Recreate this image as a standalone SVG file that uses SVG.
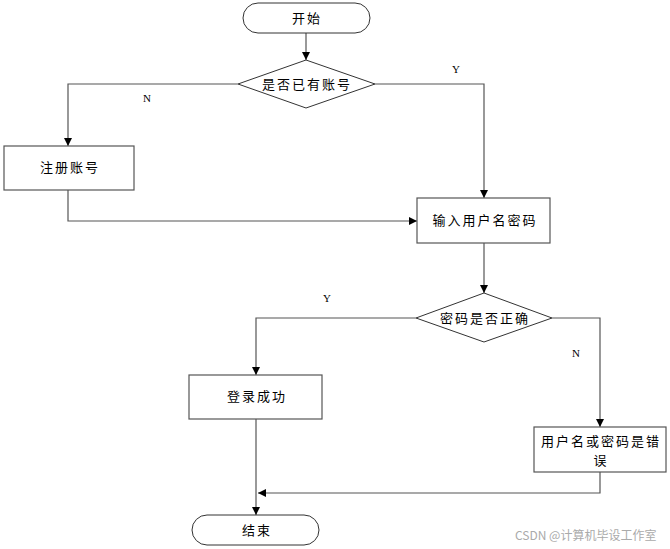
<svg xmlns="http://www.w3.org/2000/svg" width="670" height="549" viewBox="0 0 670 549">
<style>
.shape{fill:#fff;stroke:#333;stroke-width:1}
.box{fill:#fff;stroke:#555;stroke-width:1.2}
.t{font-family:"Noto Sans CJK SC","Noto Sans",sans-serif;font-size:13px;fill:#000;text-anchor:middle;letter-spacing:2px}
.lab{font-family:"Liberation Serif",serif;font-size:11px;fill:#000;text-anchor:middle}
.c{fill:none;stroke:#555;stroke-width:1.2}
.wm{font-family:"Noto Sans CJK SC","Noto Sans",sans-serif;font-size:12px;fill:#aaa}
</style>
<defs>
<marker id="ah" viewBox="0 0 10 10" refX="10" refY="5" markerWidth="8" markerHeight="8" markerUnits="userSpaceOnUse" orient="auto">
<path d="M0,0 L10,5 L0,10 Z" fill="#000"/>
</marker>
</defs>
<g id="connectors">
<path class="c" d="M306,33 V60" marker-end="url(#ah)"/>
<path class="c" d="M238,84 H68 V146" marker-end="url(#ah)"/>
<path class="c" d="M375,84 H484 V198" marker-end="url(#ah)"/>
<path class="c" d="M68,190 V221 H417" marker-end="url(#ah)"/>
<path class="c" d="M484,243 V293" marker-end="url(#ah)"/>
<path class="c" d="M416,318 H256 V375" marker-end="url(#ah)"/>
<path class="c" d="M552,318 H600 V427" marker-end="url(#ah)"/>
<path class="c" d="M600,472 V493 H258" marker-end="url(#ah)"/>
<path class="c" d="M256,419 V515" marker-end="url(#ah)"/>
<text class="lab" x="147" y="102">N</text>
<text class="lab" x="456" y="73">Y</text>
<text class="lab" x="327" y="302">Y</text>
<text class="lab" x="576" y="357">N</text>
</g>
<g id="start">
<rect class="shape" x="243" y="3" width="127" height="30" rx="15" ry="15"/>
<text class="t" x="307" y="23">开始</text>
</g>
<g id="decision1">
<polygon class="shape" points="306,60 375,84 306,108 238,84"/>
<text class="t" x="307" y="89">是否已有账号</text>
</g>
<g id="register">
<rect class="box" x="4" y="146" width="130" height="44"/>
<text class="t" x="70" y="172">注册账号</text>
</g>
<g id="input">
<rect class="box" x="417" y="198" width="133" height="45"/>
<text class="t" x="485" y="225">输入用户名密码</text>
</g>
<g id="decision2">
<polygon class="shape" points="484,293 552,318 484,342 416,318"/>
<text class="t" x="485" y="323">密码是否正确</text>
</g>
<g id="success">
<rect class="box" x="189" y="375" width="133" height="44"/>
<text class="t" x="257" y="401">登录成功</text>
</g>
<g id="error">
<rect class="box" x="534" y="427" width="132" height="45"/>
<text class="t" x="601" y="446">用户名或密码是错</text>
<text class="t" x="601" y="465">误</text>
</g>
<g id="end">
<rect class="shape" x="192" y="515" width="127" height="30" rx="15" ry="15"/>
<text class="t" x="257" y="535">结束</text>
</g>
<text class="wm" x="515" y="540">CSDN @计算机毕设工作室</text>
</svg>
